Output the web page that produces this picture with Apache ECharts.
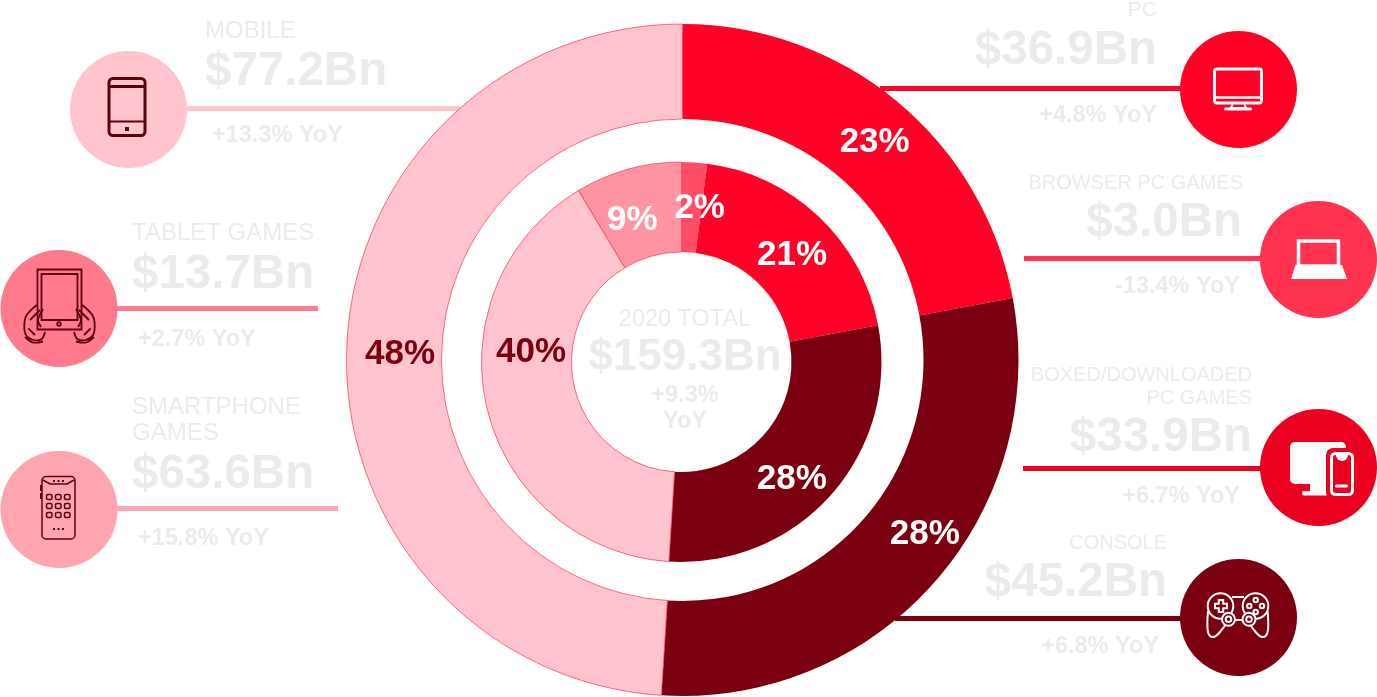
<!DOCTYPE html>
<html>
<head>
<meta charset="utf-8">
<title>2020 games market</title>
<script src="https://cdn.jsdelivr.net/npm/echarts@6/dist/echarts.min.js"></script>
<style>
html, body { margin: 0; padding: 0; background: #fff; }
#chart { width: 1377px; height: 697px; }
</style>
</head>
<body>
<div id="chart"></div>
<script>
// outer ring: share of the ring, printed label beside it
const outerNames = ['PC', 'Console', 'Mobile'];
const outerShares = [22.05, 28.95, 49];
const outerLabels = ['23%', '28%', '48%'];

// inner ring
const innerNames = ['Browser PC games', 'Boxed/downloaded PC games', 'Console', 'Smartphone games', 'Tablet games'];
const innerShares = [2.05, 20, 28.95, 40.4, 8.6];
const innerLabels = ['2%', '21%', '28%', '40%', '9%'];

// callout texts
const calloutNames = ['MOBILE', 'TABLET GAMES', 'SMARTPHONE\nGAMES', 'PC', 'BROWSER PC GAMES', 'BOXED/DOWNLOADED\nPC GAMES', 'CONSOLE'];
const calloutValues = ['$77.2Bn', '$13.7Bn', '$63.6Bn', '$36.9Bn', '$3.0Bn', '$33.9Bn', '$45.2Bn'];
const calloutYoy = ['+13.3% YoY', '+2.7% YoY', '+15.8% YoY', '+4.8% YoY', '-13.4% YoY', '+6.7% YoY', '+6.8% YoY'];

const centerTexts = ['2020 TOTAL', '$159.3Bn', '+9.3%', 'YoY'];

// 颜色
const RED = '#ff0026';
const DARK = '#7a0010';
const PALE = '#ffc4ce';
const ICON_DARK = '#5c000c';
const TEXT_GREY = '#ebebeb';
const FONT = '"Liberation Sans", Arial, sans-serif';

const outerColors = [RED, DARK, PALE];
const innerColors = ['#ff4d66', RED, DARK, PALE, '#ff94a3'];
const outerLabelColors = ['#fff', '#fff', DARK];
const innerLabelColors = ['#fff', '#fff', '#fff', DARK, '#fff'];
const outerLabelShift = [[6, 7], [24, -19], [9, 3]];
const innerLabelShift = [[8, 4], [2, 8], [-8, 13], [3, -47], [-7, 11]];

// 每个标注的位置: circle centre, colour, line span, text anchors
const calloutLayout = [
  { cx: 128.5, cy: 109.5, color: PALE, line: [187, 460, 106], align: 'left', nameX: 205, nameY: [31], nameSize: 24, valueX: 205, valueY: 72, yoyX: 212, yoyY: 136 },
  { cx: 59, cy: 308.5, color: '#ff7a8c', line: [117, 318, 306], align: 'left', nameX: 132, nameY: [233.5], nameSize: 24, valueX: 132, valueY: 275, yoyX: 138, yoyY: 340 },
  { cx: 59, cy: 509.5, color: '#ffa5b0', line: [117, 338, 506], align: 'left', nameX: 132, nameY: [407.5, 433.5], nameSize: 24, valueX: 132, valueY: 475, yoyX: 138, yoyY: 539 },
  { cx: 1238.5, cy: 89.5, color: RED, line: [880, 1181, 86], align: 'right', nameX: 1157, nameY: [10], nameSize: 21, valueX: 1157, valueY: 51, yoyX: 1157, yoyY: 116 },
  { cx: 1318.5, cy: 259.5, color: '#ff334d', line: [1024, 1261, 256], align: 'right', nameX: 1243, nameY: [183.5], nameSize: 20, valueX: 1242, valueY: 223, yoyX: 1240, yoyY: 287 },
  { cx: 1318.5, cy: 467.5, color: '#eb001f', line: [1023, 1261, 466], align: 'right', nameX: 1252, nameY: [375.5, 398.5], nameSize: 20, valueX: 1252, valueY: 438, yoyX: 1240, yoyY: 497 },
  { cx: 1238.5, cy: 617.5, color: DARK, line: [895, 1181, 616], align: 'right', nameX: 1167, nameY: [543.5], nameSize: 20, valueX: 1167, valueY: 583, yoyX: 1159, yoyY: 647 }
];

// 图形小工具
function rect(x, y, width, height, r, style) {
  return { type: 'rect', silent: true, shape: { x, y, width, height, r: r || 0 }, style };
}
function circle(cx, cy, r, style) {
  return { type: 'circle', silent: true, shape: { cx, cy, r }, style };
}
function poly(points, style, smooth) {
  return { type: 'polyline', silent: true, shape: { points, smooth: smooth || 0 }, style: Object.assign({ fill: null }, style) };
}
function label(text, x, y, size, align, bold) {
  return {
    type: 'text', silent: true,
    style: {
      text, x, y, fill: TEXT_GREY,
      font: (bold ? 'bold ' : '') + size + 'px ' + FONT,
      align, verticalAlign: 'middle', textAlign: align, textVerticalAlign: 'middle'
    }
  };
}

// 图标
function mobileIcon() {
  const s = { fill: null, stroke: ICON_DARK, lineWidth: 3 };
  return [
    rect(109, 78.5, 36, 57, 4, s),
    poly([[108, 86.5], [146, 86.5]], s),
    poly([[108, 121.5], [146, 121.5]], { stroke: ICON_DARK, lineWidth: 2 }),
    rect(125, 127, 4, 4, 0, { fill: ICON_DARK })
  ];
}
function tabletIcon() {
  const s = { fill: null, stroke: ICON_DARK, lineWidth: 1.8 };
  const hand = [[36.7, 305], [26.7, 315], [24.3, 325], [26, 335], [33.3, 340], [41.7, 339], [45, 332]];
  const inner = [[43, 309], [38, 320], [41, 327]];
  const finger = [[40, 310], [30, 320]];
  const thumb = [[28.3, 328.3], [35, 335]];
  const wrist = [[25, 337], [33, 342.5], [43, 341.5]];
  const mirror = pts => pts.map(p => [119 - p[0], p[1]]);
  return [
    rect(37.5, 269.5, 44, 60, 0, s),
    rect(41.5, 274, 36, 46, 0, s),
    circle(59, 324, 1.8, s),
    poly(hand, s, 0.3), poly(mirror(hand), s, 0.3),
    poly(inner, s, 0.3), poly(mirror(inner), s, 0.3),
    poly(finger, s), poly(mirror(finger), s),
    poly(thumb, s), poly(mirror(thumb), s),
    poly(wrist, s, 0.3), poly(mirror(wrist), s, 0.3)
  ];
}
function smartphoneIcon() {
  const s = { fill: null, stroke: ICON_DARK, lineWidth: 1.5 };
  const fill = { fill: ICON_DARK };
  const out = [
    rect(42, 476.5, 33, 62.5, 4, s),
    poly([[43, 480], [50, 484], [67, 484], [74, 480]], s),
    rect(40, 485, 2, 6, 0, fill),
    rect(40, 493, 2, 6, 0, fill)
  ];
  [54, 58.5, 63].forEach(x => {
    out.push(rect(x - 1, 480, 2, 2, 0, fill));
    out.push(rect(x - 1, 528, 2, 2, 0, fill));
  });
  [46.5, 55.5, 64.5].forEach(x => {
    [494.5, 503.5, 512.5].forEach(y => out.push(rect(x, y, 5.5, 5, 1.5, s)));
  });
  return out;
}
function pcIcon() {
  const s = { fill: null, stroke: '#fff', lineWidth: 3 };
  return [
    rect(1214.5, 69, 47, 34, 2.5, s),
    poly([[1214, 97.5], [1262, 97.5]], { stroke: '#fff', lineWidth: 2.5 }),
    { type: 'polygon', silent: true, shape: { points: [[1233, 103], [1244, 103], [1246, 108], [1231, 108]] }, style: { fill: null, stroke: '#fff', lineWidth: 2 } },
    rect(1224, 107.5, 28, 3, 1.5, { fill: '#fff' })
  ];
}
function laptopIcon() {
  return [
    rect(1298.5, 241, 40, 25, 0, { fill: null, stroke: '#fff', lineWidth: 3.5 }),
    { type: 'polygon', silent: true, shape: { points: [[1295.5, 265], [1342, 265], [1347, 279], [1291, 279]] }, style: { fill: '#fff' } }
  ];
}
function boxedIcon() {
  const bg = '#eb001f';
  return [
    rect(1290, 442, 56, 42, 5, { fill: '#fff' }),
    rect(1310, 484, 18, 7, 0, { fill: '#fff' }),
    rect(1302, 491, 26, 4.5, 2, { fill: '#fff' }),
    rect(1326, 448, 31, 51, 7, { fill: bg }),
    rect(1331.5, 453.5, 21, 41, 4, { fill: bg, stroke: '#fff', lineWidth: 3 }),
    { type: 'sector', silent: true, shape: { cx: 1342, cy: 455, r: 6, r0: 0, startAngle: 0, endAngle: Math.PI }, style: { fill: '#fff' } },
    rect(1335, 484.5, 13, 3, 1.5, { fill: '#fff' })
  ];
}
function consoleIcon() {
  const s = { fill: null, stroke: '#fff', lineWidth: 2 };
  const grip = [[1208, 611], [1207.5, 629], [1210, 636], [1215, 636.5], [1220, 632], [1226, 624]];
  const mirror = pts => pts.map(p => [2475.6 - p[0], p[1]]);
  const plus = [[1218.8, 600], [1223.2, 600], [1223.2, 603.8], [1227, 603.8], [1227, 608.2], [1223.2, 608.2], [1223.2, 612], [1218.8, 612], [1218.8, 608.2], [1215, 608.2], [1215, 603.8], [1218.8, 603.8]];
  return [
    circle(1220.5, 606, 12.8, s),
    circle(1255.5, 606, 12.8, s),
    poly([[1232, 597], [1244, 597]], s),
    poly([[1233, 620], [1243, 620]], s),
    poly(grip, s, 0.35), poly(mirror(grip), s, 0.35),
    { type: 'polygon', silent: true, shape: { points: plus }, style: s },
    circle(1228.5, 619.3, 6.5, { fill: DARK, stroke: '#fff', lineWidth: 2 }),
    circle(1228.5, 619.3, 2.8, s),
    circle(1249, 619.3, 6.5, { fill: DARK, stroke: '#fff', lineWidth: 2 }),
    circle(1249, 619.3, 2.8, s),
    circle(1255.7, 600, 2.2, s),
    circle(1249.3, 606, 2.2, s),
    circle(1262, 606, 2.2, s),
    circle(1255.7, 612, 2.2, s)
  ];
}

const iconBuilders = [mobileIcon, tabletIcon, smartphoneIcon, pcIcon, laptopIcon, boxedIcon, consoleIcon];

function buildGraphics() {
  const elements = [];
  calloutLayout.forEach((c, i) => {
    const span = c.line;
    elements.push(rect(span[0], span[2], span[1] - span[0], 5, 0, { fill: c.color }));
    elements.push(circle(c.cx, c.cy, 58.5, { fill: c.color }));
    elements.push(...iconBuilders[i]());
    calloutNames[i].split('\n').forEach((line, n) => {
      elements.push(label(line, c.nameX, c.nameY[n], c.nameSize, c.align, false));
    });
    elements.push(label(calloutValues[i], c.valueX, c.valueY, 47.5, c.align, true));
    elements.push(label(calloutYoy[i], c.yoyX, c.yoyY, 23.5, c.align, true));
  });
  elements.push(label(centerTexts[0], 685, 320, 23.5, 'center', false));
  elements.push(label(centerTexts[1], 685, 358, 44, 'center', true));
  elements.push(label(centerTexts[2], 685, 396, 23.5, 'center', true));
  elements.push(label(centerTexts[3], 685, 422, 23.5, 'center', true));
  return elements;
}

function ring(names, shares, labels, colors, labelColors, shifts, center, radius) {
  return {
    type: 'pie',
    silent: true,
    animation: false,
    clockwise: true,
    startAngle: 90,
    avoidLabelOverlap: false,
    center,
    radius,
    label: { show: true, position: 'inside', fontFamily: FONT, fontWeight: 'bold', fontSize: 35 },
    labelLine: { show: false },
    labelLayout: params => ({ dx: shifts[params.dataIndex][0], dy: shifts[params.dataIndex][1] }),
    emphasis: { disabled: true },
    data: names.map((name, i) => ({
      name,
      value: shares[i],
      itemStyle: colors[i] === DARK || colors[i] === RED || colors[i] === '#ff4d66'
        ? { color: colors[i], borderWidth: 0 }
        : { color: colors[i], borderColor: '#ff2e4c', borderWidth: 0.7 },
      label: { formatter: labels[i], color: labelColors[i] }
    }))
  };
}

const chart = echarts.init(document.getElementById('chart'));
chart.setOption({
  backgroundColor: '#fff',
  series: [
    ring(outerNames, outerShares, outerLabels, outerColors, outerLabelColors, outerLabelShift, [682.5, 360], [241, 336]),
    ring(innerNames, innerShares, innerLabels, innerColors, innerLabelColors, innerLabelShift, [681.5, 362], [110, 200])
  ],
  graphic: { elements: buildGraphics() }
});
</script>
</body>
</html>
